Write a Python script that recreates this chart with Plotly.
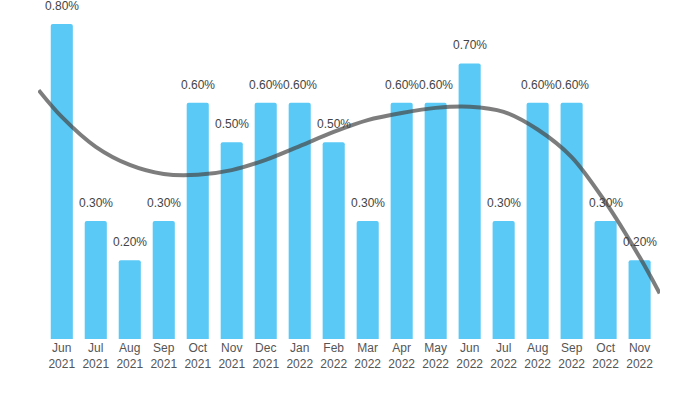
import plotly.graph_objects as go

months = ["Jun<br>2021", "Jul<br>2021", "Aug<br>2021", "Sep<br>2021", "Oct<br>2021", "Nov<br>2021",
          "Dec<br>2021", "Jan<br>2022", "Feb<br>2022", "Mar<br>2022", "Apr<br>2022", "May<br>2022",
          "Jun<br>2022", "Jul<br>2022", "Aug<br>2022", "Sep<br>2022", "Oct<br>2022", "Nov<br>2022"]
values = [0.8, 0.3, 0.2, 0.3, 0.6, 0.5, 0.6, 0.6, 0.5, 0.3, 0.6, 0.6, 0.7, 0.3, 0.6, 0.6, 0.3, 0.2]

# trend line (position in category units, value in %)
trend_x = [-0.68, 0, 1, 2, 3, 4, 5, 6, 7, 8, 9, 10, 11, 12, 13, 14, 15, 16, 17, 17.59]
trend_y = [0.632, 0.564, 0.488, 0.442, 0.419, 0.417, 0.429, 0.455, 0.490, 0.526, 0.556,
           0.574, 0.587, 0.590, 0.577, 0.532, 0.462, 0.347, 0.208, 0.116]

xs = list(range(len(months)))

fig = go.Figure()
fig.add_trace(go.Bar(x=xs, y=values, width=0.65, marker=dict(color="#5BC9F5", line=dict(width=0)),
                     hoverinfo="skip", cliponaxis=False))
fig.add_trace(go.Scatter(x=trend_x, y=trend_y, mode="lines",
                         line=dict(color="rgba(70,70,70,0.7)", width=4, shape="spline", smoothing=0.9),
                         hoverinfo="skip", cliponaxis=False))

for x, v in zip(xs, values):
    fig.add_annotation(x=x, y=v, text=f"{v:.2f}%", showarrow=False, yanchor="bottom", yshift=9,
                       font=dict(family="Liberation Sans, Arial, sans-serif", size=12, color="#444"))

fig.update_layout(
    width=683, height=393,
    margin=dict(l=38, r=23, t=24, b=54),
    paper_bgcolor="white", plot_bgcolor="white",
    showlegend=False,
    barcornerradius=2,
    font=dict(family="Liberation Sans, Arial, sans-serif", size=12, color="#555"),
    xaxis=dict(range=[-0.7, 17.6], tickmode="array", tickvals=xs, ticktext=months,
               showgrid=False, zeroline=False, showline=False, ticks="", fixedrange=True,
               tickfont=dict(size=12, color="#555")),
    yaxis=dict(range=[0, 0.8], visible=False, showgrid=False, zeroline=False, fixedrange=True),
)

fig.write_html("out.html", config={"displayModeBar": False},
               post_script="document.body.style.margin='0';document.body.style.overflow='hidden';")
